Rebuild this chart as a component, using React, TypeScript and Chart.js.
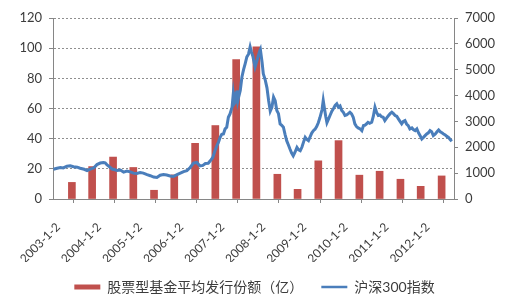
import { useEffect, useRef } from 'react';
import { Chart, registerables } from 'chart.js';

Chart.register(...registerables);

// ---- data ----
const barLabel = '股票型基金平均发行份额（亿）';
const lineLabel = '沪深300指数';

const tickYears = [2003, 2004, 2005, 2006, 2007, 2008, 2009, 2010, 2011, 2012];
const tickLabels = ['2003-1-2', '2004-1-2', '2005-1-2', '2006-1-2', '2007-1-2', '2008-1-2', '2009-1-2', '2010-1-2', '2011-1-2', '2012-1-2'];

// semi-annual issuance (dates of the half-year periods)
const barDates = [
  '2003-06-18', '2003-12-15', '2004-06-18', '2004-12-15', '2005-06-18', '2005-12-15',
  '2006-06-18', '2006-12-15', '2007-06-18', '2007-12-15', '2008-06-18', '2008-12-15',
  '2009-06-18', '2009-12-15', '2010-06-18', '2010-12-15', '2011-06-18', '2011-12-15',
  '2012-06-18',
];
const barValues = [11, 21.5, 27.8, 20.9, 5.8, 16, 36.9, 48.7, 92.4, 100.9, 16.4, 6.4, 25.3, 38.7, 15.8, 18.4, 13.1, 8.4, 15.3];

// CSI 300 index (time in decimal years)
const lineTimes = [
  2003.01, 2003.10, 2003.18, 2003.25, 2003.34, 2003.42, 2003.50, 2003.59, 2003.66, 2003.76,
  2003.83, 2003.91, 2003.99, 2004.07, 2004.15, 2004.23, 2004.27, 2004.31, 2004.37, 2004.44,
  2004.49, 2004.56, 2004.64, 2004.72, 2004.80, 2004.88, 2004.96, 2005.04, 2005.12, 2005.20,
  2005.29, 2005.37, 2005.45, 2005.53, 2005.61, 2005.69, 2005.77, 2005.85, 2005.93, 2006.02,
  2006.10, 2006.18, 2006.26, 2006.34, 2006.42, 2006.50, 2006.55, 2006.58, 2006.65, 2006.71,
  2006.78, 2006.83, 2006.89, 2006.94, 2006.99, 2007.03, 2007.07, 2007.11, 2007.15, 2007.19,
  2007.23, 2007.27, 2007.31, 2007.36, 2007.39, 2007.42, 2007.44, 2007.46, 2007.48, 2007.50,
  2007.52, 2007.56, 2007.60, 2007.64, 2007.68, 2007.72, 2007.76, 2007.80, 2007.83, 2007.87,
  2007.90, 2007.92, 2007.98, 2008.03, 2008.05, 2008.09, 2008.12, 2008.17, 2008.21, 2008.25,
  2008.29, 2008.33, 2008.37, 2008.41, 2008.45, 2008.49, 2008.53, 2008.57, 2008.61, 2008.65,
  2008.69, 2008.73, 2008.77, 2008.81, 2008.85, 2008.89, 2008.94, 2008.98, 2009.02, 2009.06,
  2009.10, 2009.14, 2009.18, 2009.22, 2009.26, 2009.30, 2009.34, 2009.38, 2009.42, 2009.46,
  2009.50, 2009.55, 2009.58, 2009.61, 2009.64, 2009.67, 2009.71, 2009.75, 2009.79, 2009.83,
  2009.87, 2009.91, 2009.95, 2009.99, 2010.03, 2010.07, 2010.11, 2010.15, 2010.19, 2010.23,
  2010.27, 2010.31, 2010.35, 2010.39, 2010.43, 2010.48, 2010.52, 2010.56, 2010.59, 2010.63,
  2010.67, 2010.71, 2010.76, 2010.80, 2010.84, 2010.88, 2010.92, 2010.96, 2011.00, 2011.04,
  2011.08, 2011.13, 2011.17, 2011.21, 2011.25, 2011.29, 2011.33, 2011.37, 2011.41, 2011.45,
  2011.49, 2011.53, 2011.57, 2011.61, 2011.65, 2011.69, 2011.74, 2011.78, 2011.82, 2011.86,
  2011.90, 2011.94, 2011.98, 2012.02, 2012.06, 2012.10, 2012.14, 2012.18, 2012.22, 2012.26,
  2012.31, 2012.35, 2012.39, 2012.43, 2012.47, 2012.51, 2012.55, 2012.59, 2012.63, 2012.67,
  2012.71,
];
const lineValues = [
  1150, 1190, 1218, 1200, 1270, 1283, 1250, 1230, 1190, 1150,
  1100, 1155, 1200, 1330, 1390, 1412, 1400, 1330, 1250, 1160,
  1140, 1100, 1120, 1040, 1080, 1050, 1000, 990, 1020, 1000,
  940, 900, 850, 830, 920, 950, 930, 890, 870, 940,
  1000, 1060, 1100, 1218, 1387, 1412, 1330, 1283, 1300, 1373,
  1380, 1478, 1607, 1850, 2061, 2200, 2384, 2500, 2516, 2710,
  2774, 3162, 3294, 3550, 4071, 3700, 3745, 4100, 4200, 3800,
  3940, 4200, 4718, 5000, 5238, 5495, 5600, 5884, 5700, 5495,
  5250, 5106, 5433, 5700, 5780, 5301, 4848, 4589, 4300, 3811,
  3400, 3550, 3940, 3800, 3422, 3300, 2905, 2850, 2774, 2500,
  2256, 2100, 1933, 1780, 1672, 1800, 1995, 1900, 1867, 2000,
  2200, 2384, 2300, 2256, 2400, 2550, 2644, 2700, 2800, 2950,
  3150, 3450, 3811, 3500, 3200, 2950, 3100, 3250, 3400, 3500,
  3617, 3683, 3550, 3600, 3422, 3350, 3228, 3250, 3300, 3356,
  3294, 3162, 2905, 2800, 2750, 2710, 2644, 2839, 2850, 2900,
  2967, 2930, 2967, 3200, 3550, 3350, 3228, 3250, 3180, 3162,
  3033, 3150, 3228, 3300, 3356, 3300, 3228, 3200, 3099, 3000,
  2905, 3000, 3033, 2900, 2839, 2710, 2750, 2680, 2644, 2710,
  2560, 2450, 2322, 2384, 2450, 2516, 2560, 2644, 2600, 2450,
  2516, 2600, 2672, 2600, 2560, 2516, 2480, 2420, 2384, 2300,
  2229,
];

const xMin = 2003;
const xMax = 2012.764;

// ---- helpers ----
function toYear(s: string): number {
  const [y, m, d] = s.split('-').map(Number);
  const start = Date.UTC(y, 0, 1);
  const t = Date.UTC(y, m - 1, d);
  return y + (t - start) / (365.25 * 864e5);
}

const RED = '#C0504D';
const BLUE = '#4A7EBB';
const TEXT = '#3c3c3c';
const AXIS = '#868686';
const FONT = 'Lato, "Noto Sans CJK SC", sans-serif';

export default function App() {
  const ref = useRef<HTMLCanvasElement | null>(null);

  useEffect(() => {
    if (!ref.current) return;
    const chart = new Chart(ref.current, {
      type: 'bar',
      data: {
        datasets: [
          {
            type: 'bar',
            label: barLabel,
            data: barDates.map((d, i) => ({ x: toYear(d), y: barValues[i] })),
            backgroundColor: RED,
            borderWidth: 0,
            barThickness: 7,
            yAxisID: 'y',
            xAxisID: 'x',
            order: 2,
          },
          {
            type: 'line',
            label: lineLabel,
            data: lineTimes.map((t, i) => ({ x: t, y: lineValues[i] })),
            borderColor: BLUE,
            backgroundColor: BLUE,
            borderWidth: 3,
            pointRadius: 0,
            tension: 0,
            fill: false,
            yAxisID: 'y1',
            xAxisID: 'x',
            order: 1,
          } as any,
        ],
      },
      options: {
        animation: false,
        responsive: false,
        layout: { padding: { top: 18, left: 0, right: 0, bottom: -3 } },
        plugins: {
          tooltip: { enabled: false },
          legend: {
            position: 'bottom',
            labels: {
              usePointStyle: true,
              pointStyleWidth: 26,
              boxHeight: 5,
              padding: 18,
              color: TEXT,
              font: { size: 14, family: FONT },
              generateLabels: () => [
                { text: barLabel, fillStyle: RED, strokeStyle: RED, lineWidth: 0, pointStyle: 'rect', hidden: false, datasetIndex: 0, fontColor: TEXT },
                { text: lineLabel, fillStyle: BLUE, strokeStyle: BLUE, lineWidth: 2.5, pointStyle: 'line', hidden: false, datasetIndex: 1, fontColor: TEXT },
              ] as any,
            },
          },
        },
        scales: {
          x: {
            type: 'linear',
            min: xMin,
            max: xMax,
            offset: false,
            afterBuildTicks: (scale: any) => {
              scale.ticks = tickYears.map((y) => ({ value: toYear(`${y}-01-02`) }));
            },
            afterFit: (scale: any) => {
              scale.height = 63;
            },
            ticks: {
              autoSkip: false,
              minRotation: 45,
              maxRotation: 45,
              padding: 17,
              labelOffset: 5,
              color: TEXT,
              font: { size: 12, family: FONT },
              callback: (_v: any, i: number) => tickLabels[i],
            },
            grid: { drawOnChartArea: false, drawTicks: true, tickLength: 4, tickColor: AXIS },
            border: { display: true, color: AXIS, width: 1 },
          },
          y: {
            type: 'linear',
            position: 'left',
            min: 0,
            max: 120,
            afterFit: (scale: any) => {
              scale.width = 53;
            },
            ticks: { stepSize: 20, padding: 7, color: TEXT, font: { size: 13, family: FONT } },
            grid: { color: '#8f8f8f', lineWidth: 1, drawTicks: true, tickLength: 4, tickColor: AXIS },
            border: { display: true, color: AXIS, width: 1, dash: [2, 2] },
          },
          y1: {
            type: 'linear',
            position: 'right',
            min: 0,
            max: 7000,
            afterFit: (scale: any) => {
              scale.width = 55;
            },
            ticks: {
              stepSize: 1000,
              padding: 7,
              color: TEXT,
              font: { size: 13, family: FONT },
              callback: (v: any) => String(v),
            },
            grid: { drawOnChartArea: false, drawTicks: true, tickLength: 4, tickColor: AXIS },
            border: { display: true, color: AXIS, width: 1 },
          },
        },
      } as any,
    });
    return () => chart.destroy();
  }, []);

  return (
    <div style={{ position: 'absolute', left: 0, top: 0, width: 509, height: 301, background: '#fff' }}>
      <canvas ref={ref} width={509} height={301} style={{ width: 509, height: 301, display: 'block' }} />
    </div>
  );
}
